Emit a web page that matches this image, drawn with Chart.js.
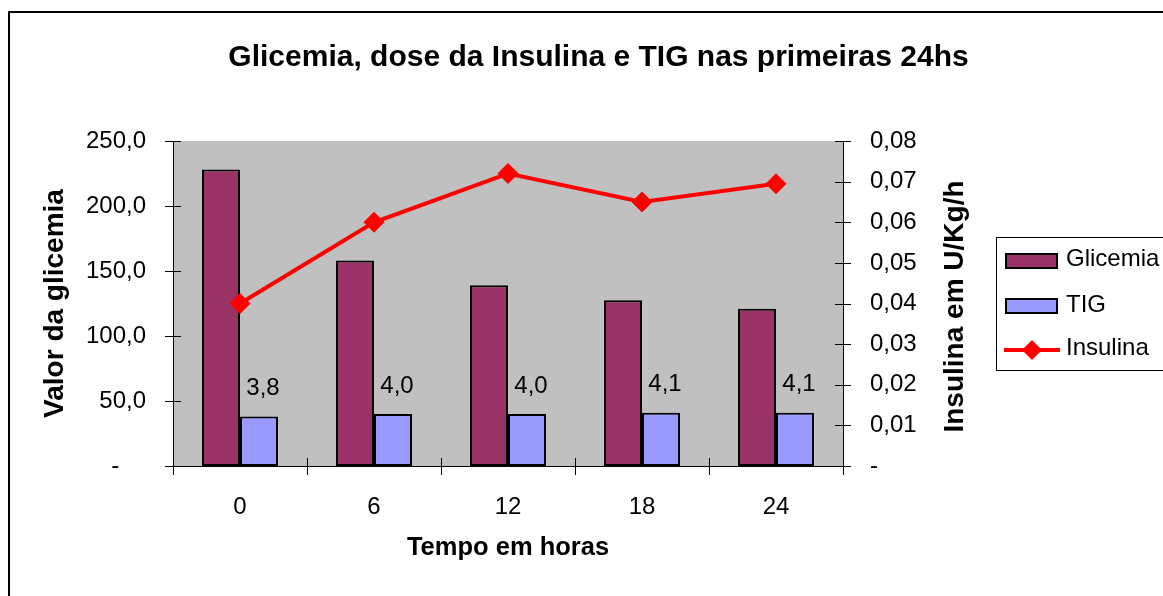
<!DOCTYPE html>
<html><head><meta charset="utf-8">
<script src="https://cdn.jsdelivr.net/npm/chart.js@4.4.1/dist/chart.umd.min.js"></script>
<style>html,body{margin:0;padding:0;background:#fff;overflow:hidden}</style>
</head><body>
<canvas id="c" width="1163" height="596"></canvas>
<script>
// ---- data ----
const categories = ['0', '6', '12', '18', '24'];
const glicemia = [228, 158, 139, 127.5, 121];
const tig = [3.8, 4.0, 4.0, 4.1, 4.1];
const insulina = [0.040, 0.060, 0.072, 0.065, 0.0695];
const chartTitle = 'Glicemia, dose da Insulina e TIG nas primeiras 24hs';
const xTitle = 'Tempo em horas';
const yTitle = 'Valor da glicemia';
const y2Title = 'Insulina em U/Kg/h';

const FONT = "'Liberation Sans', Arial, sans-serif";
Chart.defaults.font.family = FONT;
Chart.defaults.color = '#000';

const fmt = (v, d) => v.toFixed(d).replace('.', ',');

const decor = {
  id: 'decor',
  beforeDraw(chart) {
    const {ctx, chartArea: a} = chart;
    ctx.save();
    ctx.fillStyle = '#fff';
    ctx.fillRect(0, 0, chart.width, chart.height);
    ctx.fillStyle = '#C0C0C0';
    ctx.fillRect(a.left, a.top, a.right - a.left, a.bottom - a.top);
    ctx.restore();
  },
  afterDatasetsDraw(chart) {
    const {ctx, chartArea: a, scales} = chart;
    ctx.save();
    ctx.strokeStyle = '#000';
    ctx.lineWidth = 1;
    ctx.beginPath();
    scales.y.ticks.forEach(t => {
      const y = Math.round(scales.y.getPixelForValue(t.value)) + 0.5;
      ctx.moveTo(a.left - 8, y); ctx.lineTo(a.left + 8, y);
    });
    scales.y2.ticks.forEach(t => {
      const y = Math.round(scales.y2.getPixelForValue(t.value)) + 0.5;
      ctx.moveTo(a.right - 8, y); ctx.lineTo(a.right + 8, y);
    });
    const n = categories.length;
    const w = (a.right - a.left) / n;
    for (let i = 0; i <= n; i++) {
      const x = Math.round(scales.x.getPixelForValue(0) - w / 2 + i * w) + 0.5;
      ctx.moveTo(x, a.bottom - 8); ctx.lineTo(x, a.bottom + 9);
    }
    ctx.stroke();
    // TIG value labels
    const meta = chart.getDatasetMeta(1);
    ctx.font = '24px ' + FONT;
    ctx.fillStyle = '#000';
    ctx.textAlign = 'center';
    ctx.textBaseline = 'middle';
    meta.data.forEach((bar, i) => ctx.fillText(fmt(tig[i], 1), bar.x + 4, bar.y - 28));
    ctx.restore();
  },
  afterDraw(chart) {
    const {ctx} = chart;
    ctx.save();
    // right axis title, reading bottom-to-top
    ctx.translate(955, 306.5);
    ctx.rotate(-Math.PI / 2);
    ctx.font = 'bold 28px ' + FONT;
    ctx.fillStyle = '#000';
    ctx.textAlign = 'center';
    ctx.textBaseline = 'middle';
    ctx.fillText(y2Title, 0, 0);
    ctx.restore();

    // legend
    ctx.save();
    const ds = chart.data.datasets;
    ctx.strokeStyle = '#000';
    ctx.lineWidth = 1;
    ctx.strokeRect(996.5, 237.5, 300, 133);
    ctx.font = '24px ' + FONT;
    ctx.fillStyle = '#000';
    ctx.textAlign = 'left';
    ctx.textBaseline = 'middle';
    const rows = [{box: 254, text: 259}, {box: 299, text: 305}];
    rows.forEach((r, i) => {
      ctx.fillStyle = ds[i].backgroundColor;
      ctx.fillRect(1006, r.box, 51, 14);
      ctx.lineWidth = 2;
      ctx.strokeStyle = '#000';
      ctx.strokeRect(1006, r.box, 51, 14);
      ctx.fillStyle = '#000';
      ctx.fillText(ds[i].label, 1066, r.text);
    });
    const ly = 350;
    ctx.strokeStyle = ds[2].borderColor;
    ctx.lineWidth = 4;
    ctx.beginPath(); ctx.moveTo(1004, ly); ctx.lineTo(1060, ly); ctx.stroke();
    ctx.fillStyle = ds[2].borderColor;
    ctx.beginPath();
    ctx.moveTo(1032, ly - 10); ctx.lineTo(1042, ly); ctx.lineTo(1032, ly + 10); ctx.lineTo(1022, ly);
    ctx.closePath(); ctx.fill();
    ctx.fillStyle = '#000';
    ctx.fillText(ds[2].label, 1066, 348);
    // outer frame
    ctx.strokeStyle = '#000';
    ctx.lineWidth = 2;
    ctx.strokeRect(9, 12, 1400, 800);
    ctx.restore();
  }
};

new Chart(document.getElementById('c'), {
  data: {
    labels: categories,
    datasets: [
      {type: 'bar', label: 'Glicemia', data: glicemia, yAxisID: 'y',
       backgroundColor: '#993366', borderColor: '#000', borderWidth: 2, borderSkipped: false,
       categoryPercentage: 0.567, barPercentage: 1, order: 2},
      {type: 'bar', label: 'TIG', data: tig, yAxisID: 'y3',
       backgroundColor: '#9999FF', borderColor: '#000', borderWidth: 2, borderSkipped: false,
       categoryPercentage: 0.567, barPercentage: 1, order: 2},
      {type: 'line', label: 'Insulina', data: insulina, yAxisID: 'y2',
       borderColor: '#FF0000', backgroundColor: '#FF0000', borderWidth: 4, tension: 0,
       pointStyle: 'rectRot', pointRadius: 10, pointBackgroundColor: '#FF0000',
       pointBorderColor: '#FF0000', pointBorderWidth: 1, order: 1}
    ]
  },
  options: {
    responsive: false,
    devicePixelRatio: 1,
    animation: false,
    layout: {padding: {left: 34, right: 0, top: 0, bottom: 0}},
    plugins: {
      legend: {display: false},
      tooltip: {enabled: false},
      title: {display: true, text: chartTitle, color: '#000',
              font: {size: 30, weight: 'bold', family: FONT},
              padding: {top: 40, bottom: 65}}
    },
    scales: {
      x: {
        type: 'category', offset: true, stacked: false,
        grid: {display: false, drawTicks: false},
        border: {display: true, color: '#000', width: 1},
        ticks: {font: {size: 24}, color: '#000', padding: 27, maxRotation: 0},
        title: {display: true, text: xTitle, color: '#000',
                font: {size: 25.5, weight: 'bold'}, padding: {top: 0, bottom: 33}},
        afterFit(s) { s.height = 130; }
      },
      y: {
        position: 'left', min: 0, max: 250,
        grid: {display: false, drawTicks: false},
        border: {display: true, color: '#000', width: 1},
        ticks: {stepSize: 50, font: {size: 24}, color: '#000', padding: 27,
                callback: v => v === 0 ? '-\u00a0\u00a0\u00a0\u00a0' : fmt(v, 1)},
        title: {display: true, text: yTitle, color: '#000',
                font: {size: 28, weight: 'bold'}, padding: {top: 4, bottom: 0}},
        afterFit(s) { s.width = 139; }
      },
      y2: {
        position: 'right', min: 0, max: 0.08,
        grid: {display: false, drawTicks: false},
        border: {display: true, color: '#000', width: 1},
        ticks: {stepSize: 0.01, font: {size: 24}, color: '#000', padding: 27,
                callback: v => Math.abs(v) < 1e-9 ? '-' : fmt(v, 2)},
        afterFit(s) { s.width = 320; }
      },
      y3: {display: false, min: 0, max: 25}
    }
  },
  plugins: [decor]
});
</script>
</body></html>
